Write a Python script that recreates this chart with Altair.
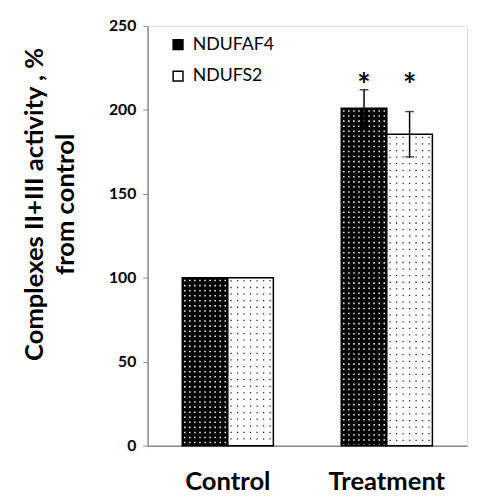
import altair as alt
import pandas as pd

groups = ["Control", "Control", "Treatment", "Treatment"]
series = ["NDUFAF4", "NDUFS2", "NDUFAF4", "NDUFS2"]
values = [100, 100, 201, 185.5]
errors = [0, 0, 11, 13.5]
stars = ["", "", "*", "*"]
star_y = [0, 0, 214, 214]

df = pd.DataFrame({"group": groups, "series": series, "value": values,
                   "err": errors, "star": stars, "star_y": star_y})
df["lo"] = df["value"] - df["err"]
df["hi"] = df["value"] + df["err"]

FONT = "Lato"
yscale = alt.Scale(domain=[0, 250], nice=False, zero=True)

x = alt.X("group:N", title=None, sort=["Control", "Treatment"],
          scale=alt.Scale(paddingInner=0.427, paddingOuter=0.218),
          axis=alt.Axis(labelAngle=0, ticks=False, labelPadding=24, labelFontSize=26,
                        labelFontWeight="bold", labelFont=FONT, labelColor="black",
                        domainColor="#8c8c8c", domainWidth=1.5))
xo = alt.XOffset("series:N", sort=["NDUFAF4", "NDUFS2"])

bars = alt.Chart(df).mark_bar(stroke="black", strokeWidth=1.5).encode(
    x=x, xOffset=xo,
    y=alt.Y("value:Q", scale=yscale, stack=None,
            title=["Complexes II+III  activity , %", "from control"],
            axis=alt.Axis(values=[0, 50, 100, 150, 200, 250], grid=False,
                          tickSize=5, tickColor="#8c8c8c", domainColor="#8c8c8c",
                          domainWidth=1.5, labelFontSize=16, labelFontWeight="bold",
                          labelFont=FONT, labelColor="black", labelPadding=7,
                          titleFontSize=26, titleFont=FONT, titleFontWeight="bold",
                          titleColor="black", titleAngle=270, titleAlign="center",
                          titleBaseline="middle", titleX=-115, titleY=181,
                          titleLineHeight=32)),
    fill=alt.Fill("series:N", sort=["NDUFAF4", "NDUFS2"],
                  scale=alt.Scale(domain=["NDUFAF4", "NDUFS2"], range=["#000000", "#ffffff"]),
                  legend=alt.Legend(title=None, orient="none", legendX=22, legendY=10,
                                    symbolType="square", symbolSize=100,
                                    symbolStrokeColor="black", symbolStrokeWidth=1.5,
                                    labelFontSize=18, labelFont=FONT, labelColor="black",
                                    rowPadding=14, labelOffset=6))
)

# dotted texture inside the bars: dashed vertical rules, one per sub-column
dark_cols = ["d%d" % i for i in range(18)]
light_cols = ["l%d" % i for i in range(14)]

dots_dark = alt.Chart(df).transform_filter(
    alt.datum.series == "NDUFAF4"
).transform_calculate(col="sequence(0, 9)").transform_flatten(["col"]).transform_calculate(
    sub="'d' + datum.col", top="datum.value - 1.2"
).mark_rule(color="white", strokeWidth=1.6, strokeDash=[1.6, 3.55], opacity=0.9).encode(
    x=x,
    xOffset=alt.XOffset("sub:N", scale=alt.Scale(domain=dark_cols, paddingInner=0, paddingOuter=0)),
    y=alt.Y("top:Q", scale=yscale), y2=alt.Y2(datum=0.6))

dots_light = alt.Chart(df).transform_filter(
    alt.datum.series == "NDUFS2"
).transform_calculate(col="sequence(7, 14)").transform_flatten(["col"]).transform_calculate(
    sub="'l' + datum.col", top="datum.value - 1.5"
).mark_rule(color="black", strokeWidth=1.3, strokeDash=[1.3, 5.4], opacity=0.85).encode(
    x=x,
    xOffset=alt.XOffset("sub:N", scale=alt.Scale(domain=light_cols, paddingInner=0, paddingOuter=0)),
    y=alt.Y("top:Q", scale=yscale), y2=alt.Y2(datum=1.0))

eb = df[df["err"] > 0]
ysc = lambda f: alt.Y(f, scale=yscale)
rules = alt.Chart(eb).mark_rule(color="black", strokeWidth=1.5).encode(
    x=x, xOffset=xo, y=ysc("lo:Q"), y2="hi:Q")
caps_hi = alt.Chart(eb).mark_tick(color="black", thickness=1.5, size=9).encode(
    x=x, xOffset=xo, y=ysc("hi:Q"))
caps_lo = alt.Chart(eb).mark_tick(color="black", thickness=1.5, size=9).encode(
    x=x, xOffset=xo, y=ysc("lo:Q"))
star_txt = alt.Chart(eb).mark_text(fontSize=32, font=FONT, fontWeight="bold",
                                   baseline="middle", dy=1).encode(
    x=x, xOffset=xo, y=ysc("star_y:Q"), text="star:N")

chart = alt.layer(bars, dots_dark, dots_light, rules, caps_hi, caps_lo, star_txt).resolve_scale(
    xOffset="independent"
).properties(
    width=325, height=427,
    autosize=alt.AutoSizeParams(type="none"),
    padding={"left": 142, "top": 14, "right": 2, "bottom": 48},
).configure_view(stroke=None).configure(background="white")

chart.save("out.html", embed_options={"renderer": "svg", "actions": False})
